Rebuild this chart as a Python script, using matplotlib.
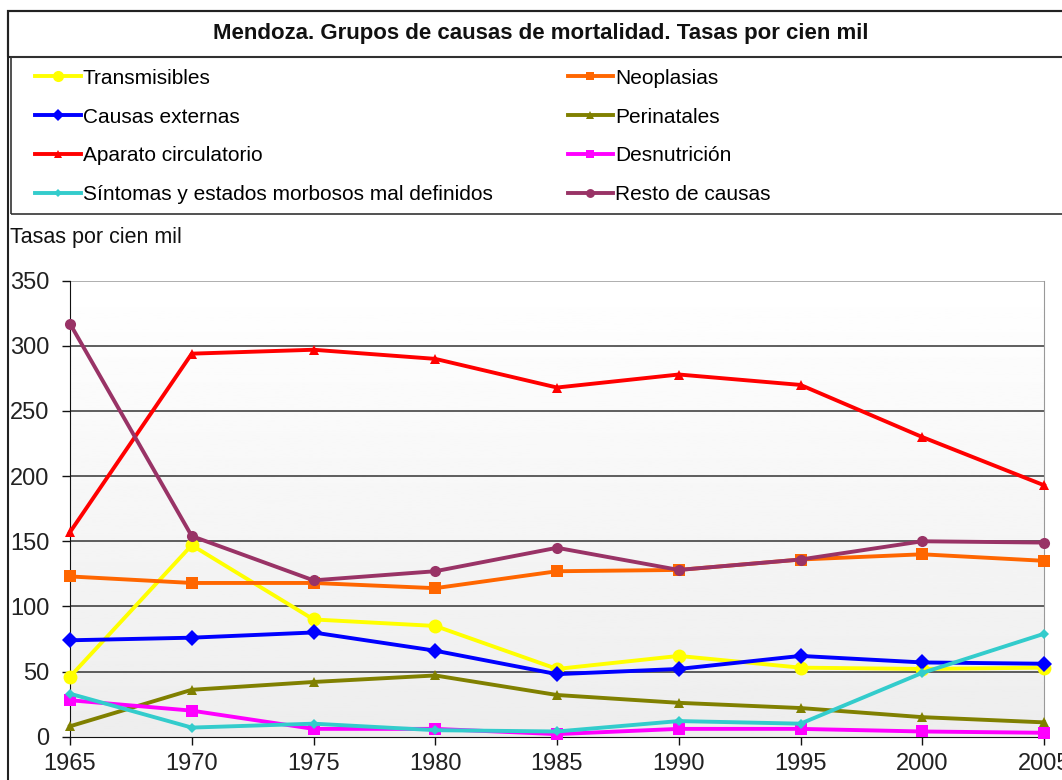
import numpy as np
import matplotlib
matplotlib.use("Agg")
import matplotlib.pyplot as plt
from matplotlib.patches import Rectangle

plt.rcParams['font.family'] = ['Liberation Sans', 'DejaVu Sans']

anios = [1965, 1970, 1975, 1980, 1985, 1990, 1995, 2000, 2005]

transmisibles = [46, 147, 90, 85, 52, 62, 53, 52, 53]
neoplasias = [123, 118, 118, 114, 127, 128, 136, 140, 135]
causas_externas = [74, 76, 80, 66, 48, 52, 62, 57, 56]
perinatales = [8, 36, 42, 47, 32, 26, 22, 15, 11]
circulatorio = [157, 294, 297, 290, 268, 278, 270, 230, 193]
desnutricion = [28, 20, 6, 6, 2, 6, 6, 4, 3]
sintomas = [33, 7, 10, 5, 4, 12, 10, 49, 79]
resto = [317, 154, 120, 127, 145, 128, 136, 150, 149]

W, H = 1062, 780
fig = plt.figure(figsize=(W / 100, H / 100), dpi=100)

def fx(px):
    return px / W

def fy(py):
    return 1 - py / H

# cajas de titulo y leyenda
fig.add_artist(Rectangle((fx(8), fy(800)), fx(1100), fy(11) - fy(800),
                         transform=fig.transFigure, fill=False, ec='#222222', lw=1.5))
fig.add_artist(Rectangle((fx(8), fy(57)), fx(1100), fy(11) - fy(57),
                         transform=fig.transFigure, fill=False, ec='#222222', lw=1.5))
fig.add_artist(Rectangle((fx(11), fy(214)), fx(1100), fy(57) - fy(214),
                         transform=fig.transFigure, fill=False, ec='#333333', lw=1.2))

fig.text(fx(541), fy(33), 'Mendoza. Grupos de causas de mortalidad. Tasas por cien mil',
         ha='center', va='center', fontsize=16, fontweight='bold', color='#111111')
fig.text(fx(10), fy(238), 'Tasas por cien mil', ha='left', va='center',
         fontsize=15.5, color='#111111')

ax = fig.add_axes([fx(70), fy(736.7), fx(974), fy(280.7) - fy(736.7)])

# fondo degradado
grad = np.linspace(0.93, 1.0, 256).reshape(-1, 1)
ax.imshow(grad, extent=[1965, 2005, 0, 350], origin='lower', aspect='auto',
          cmap='gray', vmin=0, vmax=1, zorder=0)

series = [
    ('Transmisibles', transmisibles, '#ffff00', 'o', 10),
    ('Neoplasias', neoplasias, '#ff6600', 's', 8),
    ('Causas externas', causas_externas, '#0000ff', 'D', 8),
    ('Perinatales', perinatales, '#808000', '^', 7),
    ('Aparato circulatorio', circulatorio, '#ff0000', '^', 7),
    ('Desnutrición', desnutricion, '#ff00ff', 's', 8),
    ('Síntomas y estados morbosos mal definidos', sintomas, '#33cccc', 'D', 5),
    ('Resto de causas', resto, '#993366', 'o', 8),
]
lineas = {}
for nombre, vals, col, mk, ms in series:
    ln, = ax.plot(anios, vals, color=col, lw=2.8, marker=mk, markersize=ms,
                  markeredgewidth=0, label=nombre, clip_on=False, zorder=3)
    lineas[nombre] = ln

ax.set_xlim(1965, 2005)
ax.set_ylim(0, 350)
ax.set_xticks(anios)
ax.set_yticks(range(0, 351, 50))
for v in range(50, 301, 50):
    ax.axhline(v, color='#333333', lw=1.1, zorder=1)
ax.axhline(350, color='#999999', lw=1.1, zorder=1)

ax.spines['top'].set_visible(False)
ax.spines['right'].set_color('#999999')
ax.spines['left'].set_color('#111111')
ax.spines['bottom'].set_color('#111111')
ax.tick_params(axis='both', direction='out', length=6, width=1, colors='#111111',
               labelsize=17, labelcolor='#222222')
ax.tick_params(axis='y', pad=9)
ax.tick_params(axis='x', pad=6)

orden = ['Transmisibles', 'Causas externas', 'Aparato circulatorio',
         'Síntomas y estados morbosos mal definidos',
         'Neoplasias', 'Perinatales', 'Desnutrición', 'Resto de causas']
fig.legend([lineas[n] for n in orden], orden, ncol=2, frameon=False,
           loc='upper left', bbox_to_anchor=(fx(16), fy(50)),
           fontsize=15, handlelength=2.2, handletextpad=0.1,
           columnspacing=3.6, labelspacing=0.95, markerscale=0.8)

fig.savefig('out.png', dpi=100)
